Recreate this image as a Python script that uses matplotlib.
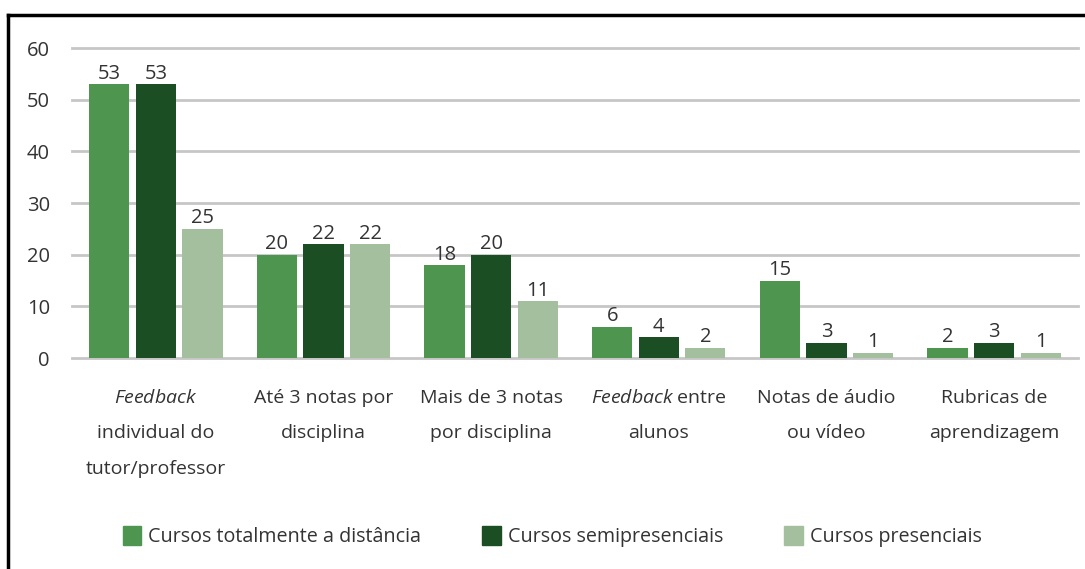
import numpy as np
import matplotlib
matplotlib.use('Agg')
from matplotlib import pyplot as plt
from matplotlib.lines import Line2D

plt.rcParams['font.family'] = ['Open Sans', 'DejaVu Sans']
plt.rcParams['mathtext.fontset'] = 'custom'
plt.rcParams['mathtext.it'] = 'Open Sans:italic'
plt.rcParams['mathtext.rm'] = 'Open Sans'

# dados
categorias = [r'$\it{Feedback}$' + '\nindividual do\ntutor/professor',
              'Até 3 notas por\ndisciplina',
              'Mais de 3 notas\npor disciplina',
              r'$\it{Feedback}$' + ' entre\nalunos',
              'Notas de áudio\nou vídeo',
              'Rubricas de\naprendizagem']
series = ['Cursos totalmente a distância', 'Cursos semipresenciais', 'Cursos presenciais']
distancia = [53, 20, 18, 6, 15, 2]
semipresencial = [53, 22, 20, 4, 3, 3]
presencial = [25, 22, 11, 2, 1, 1]
cores = ['#4e954f', '#1b4e22', '#a3bf9e']

fig = plt.figure(figsize=(10.85, 5.69), dpi=100)
ax = fig.add_axes([0.0664, 0.3708, 0.927, 0.5448])

x = np.arange(len(categorias))
largura = 0.24
passo = 0.278
valores = [distancia, semipresencial, presencial]
for i, (vals, cor, nome) in enumerate(zip(valores, cores, series)):
    pos = x + (i - 1) * passo
    ax.bar(pos, vals, largura, color=cor, label=nome, zorder=3)
    for p, v in zip(pos, vals):
        ax.text(p, v + 0.1, str(v), ha='center', va='bottom', fontsize=14.5, color='#333333')

ax.set_xlim(-0.5, 5.5)
ax.set_ylim(0, 60)
ax.set_yticks(range(0, 61, 10))
for yv in range(0, 61, 10):
    ax.axhline(yv, color='#c6c6c6', lw=2, zorder=1, clip_on=False)
for s in ax.spines.values():
    s.set_visible(False)
ax.tick_params(axis='both', length=0)
ax.tick_params(axis='y', labelsize=14.5, labelcolor='#333333', pad=16)
ax.set_xticks(x)
ax.set_xticklabels(categorias, fontsize=14, color='#333333', linespacing=2.25)
ax.tick_params(axis='x', pad=22)

handles = [plt.Rectangle((0, 0), 1, 1, color=c) for c in cores]
fig.legend(handles, series, loc='center', bbox_to_anchor=(0.509, 0.057), ncol=3,
           frameon=False, fontsize=14.2, handlelength=0.95, handleheight=1.1,
           columnspacing=3.1, handletextpad=0.35, labelcolor='#333333')

# moldura
fig.add_artist(Line2D([0.0074, 1.0], [1 - 15 / 569, 1 - 15 / 569], color='black', lw=2.5))
fig.add_artist(Line2D([0.0074, 0.0074], [0, 1 - 15 / 569], color='black', lw=2.5))

fig.savefig('out.png', dpi=100)
